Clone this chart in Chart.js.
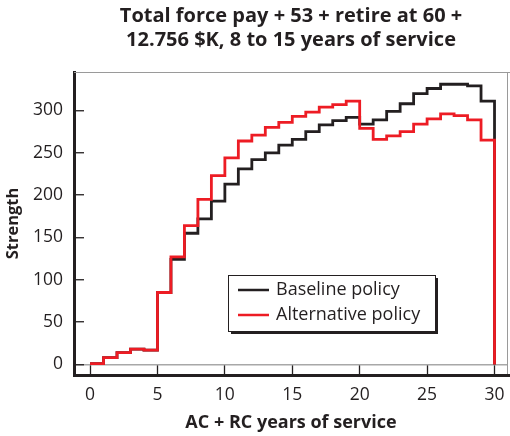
<!DOCTYPE html>
<html>
<head>
<meta charset="utf-8">
<script src="https://cdn.jsdelivr.net/npm/chart.js@4.4.1/dist/chart.umd.min.js"></script>
<style>
  html, body { margin: 0; padding: 0; background: #ffffff; }
  #wrap { width: 510px; height: 436px; position: relative; }
</style>
</head>
<body>
<div id="wrap"><canvas id="c" width="510" height="436"></canvas></div>
<script>
// ---- Data ----
const titleLines = ["Total force pay + 53 + retire at 60 +", "12.756 $K, 8 to 15 years of service"];
const xAxisTitle = "AC + RC years of service";
const yAxisTitle = "Strength";
const seriesNames = ["Baseline policy", "Alternative policy"];
// year of service at the start of each step
const years = [0,1,2,3,4,5,6,7,8,9,10,11,12,13,14,15,16,17,18,19,20,21,22,23,24,25,26,27,28,29];
const baseline = [1, 8, 14, 18, 17, 85, 124, 155, 172, 193, 213, 231, 242, 250, 259, 266, 275, 283, 288, 292, 284, 289, 299, 308, 320, 326, 331, 331, 329, 311];
const alternative = [1, 8, 14, 18, 17, 85, 127, 164, 195, 223, 244, 264, 271, 280, 286, 293, 298, 304, 307, 311, 279, 266, 270, 275, 284, 290, 296, 294, 289, 265];
const xTickValues = [0, 5, 10, 15, 20, 25, 30];
const yTickValues = [0, 50, 100, 150, 200, 250, 300];

const INK = '#231f20';
const RED = '#ed1c24';
const FONT = "'Open Sans', 'Noto Sans', sans-serif";

function stepPoints(vals) {
  const pts = years.map((x, i) => ({ x: x, y: vals[i] }));
  const end = years[years.length - 1] + 1;
  pts.push({ x: end, y: vals[vals.length - 1] });
  pts.push({ x: end, y: 0 });
  return pts;
}

const frame = {
  id: 'frame',
  beforeDatasetsDraw(chart) {
    const { ctx, chartArea: a } = chart;
    ctx.save();
    ctx.strokeStyle = '#9a9a9a';
    ctx.lineWidth = 1;
    ctx.beginPath();
    ctx.moveTo(a.left, a.top + 0.5);
    ctx.lineTo(chart.width, a.top + 0.5);
    ctx.moveTo(a.right - 0.5, a.top);
    ctx.lineTo(a.right - 0.5, a.bottom);
    ctx.stroke();
    ctx.strokeStyle = INK;
    ctx.lineWidth = 3;
    ctx.beginPath();
    ctx.moveTo(a.right - 1, a.bottom + 0.5);
    ctx.lineTo(chart.width, a.bottom + 0.5);
    ctx.stroke();
    ctx.restore();
  }
};

const boxLegend = {
  id: 'boxLegend',
  afterDraw(chart) {
    const { ctx, chartArea: a } = chart;
    const left = a.left + 154, top = a.top + 203, w = 207, h = 56;
    ctx.save();
    ctx.fillStyle = INK;
    ctx.fillRect(left + 3, top + 3, w, h);
    ctx.fillStyle = '#ffffff';
    ctx.fillRect(left, top, w, h);
    ctx.strokeStyle = INK;
    ctx.lineWidth = 1;
    ctx.strokeRect(left + 0.5, top + 0.5, w, h);
    ctx.font = "18px " + FONT;
    ctx.textBaseline = 'middle';
    ctx.textAlign = 'left';
    chart.data.datasets.forEach((ds, i) => {
      const y = top + 15 + i * 25;
      ctx.strokeStyle = ds.borderColor;
      ctx.lineWidth = 2.5;
      ctx.beginPath();
      ctx.moveTo(left + 10, y);
      ctx.lineTo(left + 41, y);
      ctx.stroke();
      ctx.fillStyle = INK;
      ctx.fillText(ds.label, left + 48, y);
    });
    ctx.restore();
  }
};

new Chart(document.getElementById('c'), {
  type: 'line',
  data: {
    datasets: [
      { label: seriesNames[0], data: stepPoints(baseline), borderColor: INK, backgroundColor: INK,
        borderWidth: 2.8, stepped: 'before', pointRadius: 0, fill: false, order: 1 },
      { label: seriesNames[1], data: stepPoints(alternative), borderColor: RED, backgroundColor: RED,
        borderWidth: 2.8, stepped: 'before', pointRadius: 0, fill: false, order: 0 }
    ]
  },
  options: {
    responsive: false,
    animation: false,
    devicePixelRatio: 1,
    layout: { padding: { left: 0, right: 2, top: 0, bottom: 0 } },
    plugins: {
      legend: { display: false },
      tooltip: { enabled: false },
      title: {
        display: true,
        text: titleLines,
        fullSize: false,
        color: INK,
        font: { family: FONT, size: 20, weight: 'bold', lineHeight: 1.2 },
        padding: { top: 4, bottom: 20 }
      }
    },
    scales: {
      x: {
        type: 'linear',
        min: -1.19,
        max: 31.0,
        afterBuildTicks: s => { s.ticks = xTickValues.map(v => ({ value: v })); },
        afterFit: s => { s.height = 61; s.paddingLeft = 0; s.paddingRight = 0; },
        ticks: { color: INK, font: { family: FONT, size: 17.5 }, padding: 20, maxRotation: 0, autoSkip: false },
        grid: { drawOnChartArea: false, drawTicks: true, tickLength: -10, tickColor: INK, tickWidth: 1.3 },
        border: { display: true, color: INK, width: 3 },
        title: { display: true, text: xAxisTitle, color: INK, font: { family: FONT, size: 18, weight: 'bold', lineHeight: 1.2 },
                 padding: { top: 0, bottom: 2 } }
      },
      y: {
        type: 'linear',
        min: -12.5,
        max: 345.5,
        afterBuildTicks: s => { s.ticks = yTickValues.map(v => ({ value: v })); },
        afterFit: s => { s.width = 74; s.paddingTop = 0; s.paddingBottom = 0; },
        ticks: { color: INK, font: { family: FONT, size: 17.5 }, padding: 21, autoSkip: false },
        grid: {
          drawOnChartArea: true, drawTicks: true, tickLength: -10,
          color: c => (c.tick && c.tick.value === 0) ? '#a8a8a8' : 'rgba(0,0,0,0)',
          lineWidth: 1.5,
          tickColor: INK, tickWidth: 1.3
        },
        border: { display: true, color: INK, width: 3 },
        title: { display: true, text: yAxisTitle, color: INK, font: { family: FONT, size: 16.5, weight: 'bold', lineHeight: 1.2 },
                 padding: { top: 3, bottom: 0 } }
      }
    }
  },
  plugins: [frame, boxLegend]
});
</script>
</body>
</html>
